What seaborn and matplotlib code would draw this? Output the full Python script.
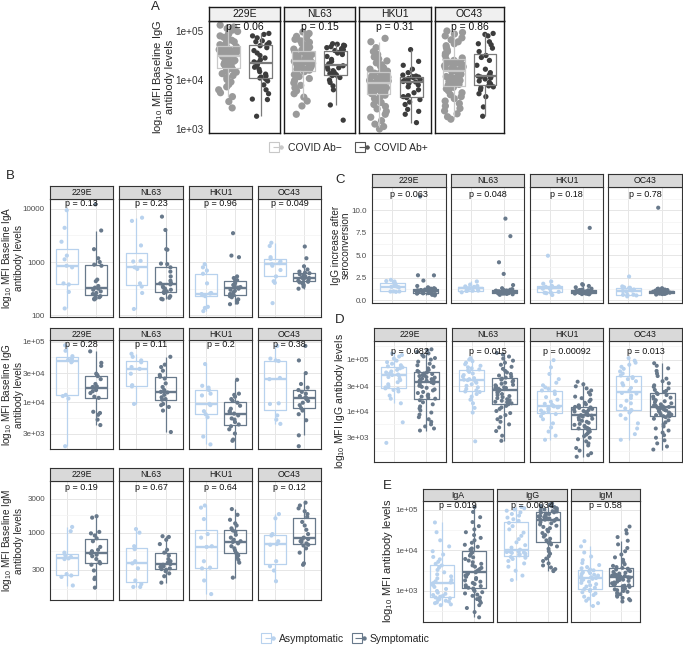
import numpy as np
import pandas as pd
import matplotlib
matplotlib.use("Agg")
import matplotlib.pyplot as plt
import seaborn as sns
from matplotlib.lines import Line2D
from matplotlib.legend_handler import HandlerTuple
from matplotlib.ticker import NullLocator

sns.set_theme(style="white")
plt.rcParams["font.family"] = ["Liberation Sans", "DejaVu Sans"]
plt.rcParams["mathtext.fontset"] = "custom"
plt.rcParams["mathtext.rm"] = "Liberation Sans"
np.random.seed(7)

viruses = ["229E", "NL63", "HKU1", "OC43"]
isotypes = ["IgA", "IgG", "IgM"]
groups_A = ["COVID Ab\u2212", "COVID Ab+"]
groups_S = ["Asymptomatic", "Symptomatic"]

# ---------------- Panel A (log10 MFI values) ----------------
A_229E_neg = [5.12, 5.08, 5.05, 5.02, 4.99, 4.96, 4.93, 4.90, 4.87, 4.84, 4.81, 4.78, 4.75, 4.72, 4.70,
              4.68, 4.67, 4.65, 4.64, 4.62, 4.61, 4.59, 4.58, 4.57, 4.55, 4.54, 4.53, 4.52, 4.51, 4.50,
              4.48, 4.46, 4.45, 4.43, 4.41, 4.40, 4.38, 4.36, 4.34, 4.32, 4.30, 4.29, 4.27, 4.26, 4.25,
              4.22, 4.19, 4.16, 4.13, 4.09, 4.05, 4.01, 3.96, 3.91, 3.86, 3.80, 3.74, 3.66, 3.56, 3.43]
A_229E_pos = [4.95, 4.93, 4.90, 4.86, 4.80, 4.78, 4.76, 4.74, 4.72, 4.70, 4.66, 4.60, 4.55, 4.50, 4.45,
              4.41, 4.37, 4.35, 4.33, 4.30, 4.26, 4.22, 4.17, 4.12, 4.08, 4.06, 4.04, 4.02, 3.98, 3.90,
              3.80, 3.72, 3.61, 3.60, 3.26]
A_NL63_neg = [4.98, 4.95, 4.92, 4.89, 4.86, 4.83, 4.80, 4.77, 4.74, 4.72, 4.69, 4.67, 4.65, 4.63, 4.61,
              4.59, 4.58, 4.56, 4.55, 4.53, 4.52, 4.50, 4.49, 4.47, 4.46, 4.44, 4.43, 4.42, 4.41, 4.40,
              4.38, 4.37, 4.35, 4.34, 4.32, 4.31, 4.29, 4.28, 4.26, 4.25, 4.24, 4.23, 4.22, 4.21, 4.20,
              4.17, 4.14, 4.11, 4.07, 4.03, 3.99, 3.94, 3.89, 3.84, 3.78, 3.72, 3.65, 3.57, 3.47, 3.30]
A_NL63_pos = [4.74, 4.73, 4.71, 4.70, 4.68, 4.66, 4.64, 4.62, 4.60, 4.58, 4.57, 4.55, 4.52, 4.48, 4.42,
              4.38, 4.33, 4.29, 4.27, 4.25, 4.22, 4.19, 4.16, 4.13, 4.11, 4.10, 4.09, 4.05, 4.00, 3.95,
              3.88, 3.80, 3.49, 3.18]
A_HKU1_neg = [4.85, 4.78, 4.66, 4.58, 4.52, 4.47, 4.43, 4.39, 4.35, 4.31, 4.28, 4.25, 4.22, 4.20, 4.18,
              4.16, 4.14, 4.13, 4.11, 4.09, 4.08, 4.06, 4.04, 4.03, 4.01, 3.99, 3.98, 3.97, 3.96, 3.95,
              3.94, 3.92, 3.90, 3.88, 3.86, 3.84, 3.82, 3.81, 3.79, 3.77, 3.76, 3.75, 3.74, 3.73, 3.72,
              3.69, 3.66, 3.62, 3.58, 3.54, 3.50, 3.46, 3.41, 3.36, 3.30, 3.24, 3.17, 3.10, 3.05, 3.00]
A_HKU1_pos = [4.62, 4.38, 4.30, 4.22, 4.15, 4.10, 4.08, 4.07, 4.06, 4.05, 4.03, 4.01, 3.99, 3.97, 3.96,
              3.95, 3.93, 3.90, 3.86, 3.80, 3.74, 3.68, 3.66, 3.64, 3.60, 3.55, 3.50, 3.40, 3.36, 3.30, 3.13]
A_OC43_neg = [5.00, 4.97, 4.94, 4.90, 4.86, 4.82, 4.78, 4.74, 4.70, 4.66, 4.62, 4.58, 4.54, 4.50, 4.45,
              4.42, 4.40, 4.38, 4.36, 4.34, 4.32, 4.30, 4.29, 4.27, 4.25, 4.23, 4.22, 4.21, 4.20, 4.19,
              4.17, 4.15, 4.13, 4.11, 4.09, 4.07, 4.05, 4.03, 4.01, 3.99, 3.97, 3.95, 3.93, 3.91, 3.89,
              3.85, 3.82, 3.78, 3.74, 3.70, 3.66, 3.62, 3.57, 3.52, 3.47, 3.42, 3.37, 3.31, 3.25, 3.20]
A_OC43_pos = [4.95, 4.93, 4.90, 4.78, 4.74, 4.72, 4.65, 4.58, 4.50, 4.46, 4.40, 4.30, 4.22, 4.15, 4.10,
              4.08, 4.07, 4.06, 4.04, 4.02, 3.98, 3.95, 3.92, 3.88, 3.86, 3.84, 3.80, 3.72, 3.66, 3.45, 3.26]
A_pvals = ["0.06", "0.15", "0.31", "0.86"]

# ---------------- Panel B (log10 MFI baseline) ----------------
B_IgA_229E_asym = [3.97, 3.64, 3.38, 3.12, 3.05, 2.93, 2.90, 2.60, 2.58, 2.44, 2.13]
B_IgA_229E_sym = [4.08, 3.59, 3.24, 3.07, 3.00, 2.95, 2.93, 2.67, 2.64, 2.55, 2.52, 2.50, 2.48, 2.45, 2.42,
                  2.40, 2.38, 2.36, 2.34, 2.32, 2.31, 2.30]
B_IgA_NL63_asym = [3.83, 3.77, 3.31, 3.02, 3.01, 2.90, 2.87, 2.60, 2.54, 2.42, 2.12]
B_IgA_NL63_sym = [3.85, 3.60, 3.24, 3.23, 2.97, 2.96, 2.90, 2.82, 2.73, 2.65, 2.61, 2.60, 2.58, 2.54, 2.52,
                  2.50, 2.48, 2.45, 2.44, 2.42, 2.36, 2.33, 2.31, 2.30]
B_IgA_HKU1_asym = [2.96, 2.90, 2.84, 2.78, 2.60, 2.42, 2.41, 2.40, 2.38, 2.36, 2.16, 2.14, 2.08]
B_IgA_HKU1_sym = [3.54, 3.12, 3.09, 2.73, 2.70, 2.66, 2.64, 2.60, 2.57, 2.55, 2.53, 2.52, 2.50, 2.48, 2.46,
                  2.43, 2.40, 2.38, 2.36, 2.34, 2.30, 2.27, 2.24, 2.21]
B_IgA_OC43_asym = [3.36, 3.30, 3.09, 3.06, 3.01, 2.98, 2.96, 2.93, 2.85, 2.73, 2.64, 2.61, 2.23]
B_IgA_OC43_sym = [3.29, 3.07, 2.92, 2.86, 2.82, 2.80, 2.79, 2.77, 2.75, 2.73, 2.71, 2.70, 2.69, 2.68, 2.66,
                  2.65, 2.63, 2.62, 2.60, 2.57, 2.54, 2.50]
B_IgA_pvals = ["0.13", "0.23", "0.96", "0.049"]

B_IgG_229E_asym = [4.94, 4.85, 4.76, 4.72, 4.70, 4.68, 4.66, 4.12, 4.10, 4.06, 3.27]
B_IgG_229E_sym = [4.84, 4.65, 4.60, 4.47, 4.45, 4.43, 4.38, 4.30, 4.26, 4.25, 4.24, 4.20, 4.18, 4.15, 4.09,
                  4.07, 3.84, 3.82, 3.79, 3.71, 3.62]
B_IgG_NL63_asym = [4.80, 4.75, 4.69, 4.66, 4.58, 4.55, 4.47, 4.28, 4.26, 3.97, 3.19]
B_IgG_NL63_sym = [4.75, 4.62, 4.58, 4.52, 4.45, 4.42, 4.39, 4.31, 4.25, 4.20, 4.17, 4.16, 4.12, 4.08, 4.05,
                  4.04, 3.97, 3.95, 3.92, 3.86, 3.505]
B_IgG_HKU1_asym = [4.63, 4.27, 4.24, 4.20, 4.14, 4.11, 3.97, 3.95, 3.85, 3.80, 3.75, 3.43, 3.30]
B_IgG_HKU1_sym = [4.37, 4.14, 4.12, 4.09, 4.05, 4.02, 3.99, 3.94, 3.89, 3.85, 3.83, 3.81, 3.78, 3.73, 3.71,
                  3.67, 3.63, 3.60, 3.55, 3.48, 3.38, 3.36, 3.15]
B_IgG_OC43_asym = [4.93, 4.72, 4.69, 4.68, 4.40, 4.38, 3.98, 3.97, 3.78, 3.71, 3.64]
B_IgG_OC43_sym = [4.93, 4.69, 4.48, 4.30, 4.24, 4.20, 4.17, 4.14, 4.10, 4.08, 4.07, 4.05, 4.02, 3.99, 3.95,
                  3.90, 3.86, 3.80, 3.70, 3.45, 3.27]
B_IgG_pvals = ["0.28", "0.11", "0.2", "0.38"]

B_IgM_229E_asym = [3.08, 3.02, 2.72, 2.68, 2.66, 2.64, 2.63, 2.42, 2.40, 2.38, 2.26]
B_IgM_229E_sym = [3.23, 3.21, 3.01, 2.99, 2.96, 2.92, 2.88, 2.80, 2.76, 2.74, 2.72, 2.71, 2.69, 2.67, 2.63,
                  2.59, 2.57, 2.55, 2.47, 2.37, 2.35, 2.23]
B_IgM_NL63_asym = [3.05, 3.00, 2.81, 2.77, 2.60, 2.57, 2.50, 2.33, 2.28, 2.24, 2.24]
B_IgM_NL63_sym = [2.95, 2.94, 2.90, 2.84, 2.76, 2.72, 2.68, 2.63, 2.60, 2.58, 2.56, 2.55, 2.53, 2.52, 2.50,
                  2.49, 2.48, 2.46, 2.43, 2.39, 2.30]
B_IgM_HKU1_asym = [3.38, 3.35, 3.19, 2.98, 2.93, 2.81, 2.80, 2.60, 2.51, 2.50, 2.33, 2.14]
B_IgM_HKU1_sym = [3.33, 3.25, 3.18, 3.13, 3.10, 3.06, 3.03, 3.01, 2.97, 2.93, 2.90, 2.88, 2.87, 2.85, 2.81,
                  2.78, 2.75, 2.72, 2.70, 2.68, 2.65, 2.62, 2.58, 2.37]
B_IgM_OC43_asym = [3.26, 3.20, 2.98, 2.96, 2.88, 2.84, 2.83, 2.60, 2.53, 2.47, 2.32]
B_IgM_OC43_sym = [3.42, 3.38, 3.34, 3.30, 3.26, 3.22, 3.15, 3.10, 3.04, 2.98, 2.93, 2.91, 2.90, 2.88, 2.87,
                  2.85, 2.83, 2.82, 2.78, 2.72, 2.57, 2.55]
B_IgM_pvals = ["0.19", "0.67", "0.64", "0.12"]

# ---------------- Panel C (fold increase, linear) ----------------
C_229E_asym = [2.28, 2.15, 2.10, 1.84, 1.70, 1.55, 1.51, 1.45, 1.00, 0.99, 0.98, 0.95]
C_229E_sym = [11.54, 2.79, 2.78, 2.20, 1.60, 1.45, 1.35, 1.30, 1.28, 1.25, 1.20, 1.15, 1.12, 1.10, 1.08,
              1.07, 1.05, 1.02, 1.00, 0.98, 0.95, 0.84, 0.82, 0.81, 0.80, 0.80, 0.75, 0.70, 0.62, 0.55]
C_NL63_asym = [2.10, 1.75, 1.60, 1.55, 1.50, 1.40, 1.35, 1.32, 1.30, 1.09, 1.08, 1.07, 1.05, 0.90]
C_NL63_sym = [9.08, 7.13, 4.23, 2.94, 1.70, 1.35, 1.25, 1.18, 1.12, 1.10, 1.08, 1.05, 1.02, 1.00, 0.99,
              0.98, 0.97, 0.95, 0.92, 0.90, 0.88, 0.85, 0.82, 0.81, 0.80, 0.78, 0.75, 0.72, 0.68, 0.62]
C_HKU1_asym = [4.96, 2.10, 1.85, 1.60, 1.55, 1.50, 1.38, 1.30, 1.25, 0.95, 0.88, 0.85, 0.80, 0.60]
C_HKU1_sym = [8.05, 1.80, 1.72, 1.60, 1.45, 1.30, 1.20, 1.15, 1.12, 1.10, 1.05, 1.02, 1.00, 0.99, 0.98,
              0.96, 0.94, 0.92, 0.90, 0.88, 0.85, 0.82, 0.80, 0.78, 0.76, 0.75, 0.74, 0.72, 0.70, 0.68]
C_OC43_asym = [2.65, 1.55, 1.45, 1.40, 1.38, 1.20, 1.10, 1.05, 1.00, 0.63, 0.62, 0.62, 0.55, 0.45]
C_OC43_sym = [10.29, 1.35, 1.30, 1.25, 1.20, 1.15, 1.10, 1.08, 1.06, 1.04, 1.02, 1.00, 0.98, 0.97, 0.96,
              0.95, 0.94, 0.92, 0.90, 0.88, 0.86, 0.84, 0.82, 0.81, 0.80, 0.78, 0.75, 0.72, 0.70, 0.65]
C_pvals = ["0.063", "0.048", "0.18", "0.78"]

# ---------------- Panel D (log10 MFI IgG) ----------------
D_229E_asym = [5.12, 5.09, 5.06, 5.02, 4.98, 4.95, 4.92, 4.89, 4.87, 4.85, 4.83, 4.80, 4.77, 4.75, 4.73,
               4.71, 4.70, 4.69, 4.66, 4.63, 4.60, 4.56, 4.52, 4.48, 4.46, 4.44, 4.43, 4.41, 4.38, 4.30,
               4.24, 4.15, 3.78, 3.38]
D_229E_sym = [5.20, 5.18, 5.15, 5.12, 5.09, 5.06, 5.03, 5.00, 4.96, 4.92, 4.89, 4.86, 4.83, 4.80, 4.78,
              4.76, 4.75, 4.73, 4.72, 4.70, 4.69, 4.68, 4.66, 4.65, 4.63, 4.62, 4.61, 4.60, 4.59, 4.58,
              4.56, 4.54, 4.52, 4.49, 4.47, 4.45, 4.42, 4.40, 4.37, 4.35, 4.32, 4.30, 4.28, 4.26, 4.24,
              4.21, 4.17, 4.13, 4.09, 4.05, 4.01, 3.97, 3.93, 3.88, 3.84, 3.79, 3.74, 3.70, 3.66, 3.62]
D_NL63_asym = [5.03, 5.00, 4.97, 4.94, 4.91, 4.88, 4.85, 4.83, 4.81, 4.79, 4.76, 4.73, 4.70, 4.67, 4.64,
               4.62, 4.61, 4.60, 4.58, 4.55, 4.52, 4.49, 4.46, 4.43, 4.40, 4.38, 4.37, 4.33, 4.28, 4.22,
               4.15, 4.06, 3.97, 3.41]
D_NL63_sym = [5.13, 5.10, 5.06, 5.02, 4.98, 4.94, 4.90, 4.86, 4.82, 4.78, 4.75, 4.72, 4.69, 4.67, 4.65,
              4.63, 4.61, 4.59, 4.57, 4.55, 4.53, 4.51, 4.50, 4.48, 4.46, 4.45, 4.44, 4.43, 4.42, 4.41,
              4.39, 4.37, 4.35, 4.33, 4.31, 4.29, 4.27, 4.25, 4.23, 4.21, 4.20, 4.18, 4.17, 4.16, 4.15,
              4.13, 4.10, 4.07, 4.04, 4.00, 3.96, 3.92, 3.88, 3.84, 3.79, 3.74, 3.68, 3.61, 3.52, 3.42]
D_HKU1_asym = [4.99, 4.85, 4.72, 4.62, 4.55, 4.50, 4.46, 4.43, 4.40, 4.38, 4.33, 4.27, 4.22, 4.18, 4.14,
               4.12, 4.10, 4.09, 4.08, 4.07, 4.05, 4.03, 4.01, 3.99, 3.97, 3.96, 3.94, 3.90, 3.84, 3.76,
               3.68, 3.60, 3.52, 3.44]
D_HKU1_sym = [4.57, 4.52, 4.48, 4.44, 4.40, 4.36, 4.32, 4.28, 4.25, 4.22, 4.19, 4.16, 4.13, 4.11, 4.10,
              4.08, 4.07, 4.06, 4.04, 4.03, 4.02, 4.00, 3.99, 3.98, 3.96, 3.95, 3.94, 3.93, 3.92, 3.92,
              3.91, 3.89, 3.87, 3.85, 3.83, 3.81, 3.79, 3.77, 3.75, 3.73, 3.71, 3.69, 3.67, 3.66, 3.65,
              3.63, 3.60, 3.57, 3.54, 3.51, 3.48, 3.45, 3.41, 3.37, 3.33, 3.28, 3.23, 3.18, 3.14, 3.11]
D_OC43_asym = [5.03, 4.98, 4.94, 4.90, 4.86, 4.82, 4.77, 4.73, 4.69, 4.66, 4.64, 4.62, 4.58, 4.54, 4.50,
               4.45, 4.40, 4.35, 4.34, 4.30, 4.25, 4.20, 4.15, 4.10, 4.05, 4.02, 4.00, 3.97, 3.92, 3.85,
               3.76, 3.66, 3.55, 3.44]
D_OC43_sym = [4.93, 4.88, 4.83, 4.78, 4.73, 4.68, 4.63, 4.58, 4.54, 4.50, 4.47, 4.44, 4.41, 4.39, 4.37,
              4.35, 4.33, 4.31, 4.28, 4.26, 4.24, 4.21, 4.19, 4.17, 4.15, 4.13, 4.11, 4.10, 4.09, 4.08,
              4.06, 4.05, 4.04, 4.02, 4.01, 4.00, 3.98, 3.97, 3.95, 3.94, 3.93, 3.92, 3.91, 3.90, 3.90,
              3.88, 3.85, 3.82, 3.78, 3.74, 3.70, 3.66, 3.62, 3.58, 3.53, 3.48, 3.43, 3.37, 3.31, 3.25]
D_pvals = ["0.082", "0.015", "0.00092", "0.013"]

# ---------------- Panel E (log10 MFI by isotype) ----------------
E_IgA_asym = [4.69, 4.45, 4.25, 4.10, 3.98, 3.90, 3.84, 3.78, 3.72, 3.67,
              3.63, 3.58, 3.52, 3.46, 3.41, 3.36, 3.31, 3.27, 3.24, 3.21,
              3.20, 3.15, 3.10, 3.05, 3.00, 2.96, 2.93, 2.90, 2.88, 2.86,
              2.84, 2.82, 2.80, 2.78, 2.76, 2.74, 2.72, 2.70, 2.67, 2.65]
E_IgA_sym = [5.07, 4.95, 4.82, 4.70, 4.60, 4.52, 4.45, 4.38, 4.31, 4.25, 4.19, 4.14, 4.09, 4.05, 4.02,
             3.99, 3.95, 3.91, 3.87, 3.83, 3.79, 3.75, 3.71, 3.67, 3.63, 3.60, 3.57, 3.54, 3.51, 3.48,
             3.46, 3.43, 3.40, 3.38, 3.35, 3.32, 3.29, 3.26, 3.23, 3.20, 3.17, 3.14, 3.12, 3.10, 3.08,
             3.06, 3.03, 3.00, 2.97, 2.94, 2.91, 2.88, 2.84, 2.80, 2.76, 2.71, 2.65, 2.58, 2.48, 2.35]
E_IgG_asym = [5.07, 5.04, 5.01, 4.98, 4.94, 4.90, 4.86, 4.81, 4.77, 4.73,
              4.68, 4.60, 4.52, 4.44, 4.36, 4.28, 4.20, 4.13, 4.07, 4.02,
              3.99, 3.98, 3.97, 3.96, 3.95, 3.94, 3.92, 3.91, 3.90, 3.88,
              3.86, 3.84, 3.82, 3.79, 3.74, 3.68, 3.60, 3.50, 3.38, 3.27]
E_IgG_sym = [5.16, 5.14, 5.12, 5.10, 5.09, 5.07, 5.06, 5.04, 5.03, 5.01, 5.00, 4.99, 4.98, 4.97, 4.96,
             4.94, 4.93, 4.91, 4.90, 4.88, 4.87, 4.85, 4.84, 4.82, 4.80, 4.79, 4.78, 4.77, 4.76, 4.75,
             4.73, 4.70, 4.67, 4.64, 4.61, 4.58, 4.55, 4.51, 4.47, 4.43, 4.38, 4.34, 4.29, 4.25, 4.21,
             4.19, 4.15, 4.10, 4.04, 3.98, 3.92, 3.86, 3.80, 3.74, 3.68, 3.63, 3.58, 3.54, 3.51, 3.49]
E_IgM_asym = [4.23, 4.10, 3.95, 3.85, 3.76, 3.69, 3.64, 3.59, 3.56, 3.53,
              3.51, 3.49, 3.46, 3.44, 3.42, 3.40, 3.38, 3.36, 3.34, 3.32,
              3.30, 3.28, 3.26, 3.23, 3.20, 3.17, 3.14, 3.11, 3.08, 3.05,
              3.03, 3.00, 2.97, 2.94, 2.90, 2.86, 2.81, 2.76, 2.70, 2.63]
E_IgM_sym = [4.59, 4.50, 4.42, 4.33, 4.24, 4.15, 4.06, 3.98, 3.90, 3.83, 3.77, 3.71, 3.66, 3.62, 3.59,
             3.57, 3.55, 3.53, 3.51, 3.49, 3.47, 3.45, 3.43, 3.42, 3.40, 3.39, 3.38, 3.37, 3.36, 3.35,
             3.34, 3.33, 3.31, 3.30, 3.28, 3.27, 3.25, 3.23, 3.21, 3.19, 3.17, 3.15, 3.14, 3.13, 3.12,
             3.10, 3.08, 3.06, 3.04, 3.02, 3.00, 2.98, 2.95, 2.92, 2.89, 2.86, 2.83, 2.80, 2.77, 2.74]
E_pvals = ["0.019", "0.0034", "0.58"]

# ---------------- styling ----------------
W, H = 683, 645
fig = plt.figure(figsize=(W / 100, H / 100), dpi=100)

pal_A = {groups_A[0]: "#9a9a9a", groups_A[1]: "#3c3c3c"}
box_A = {groups_A[0]: "#c8c8c8", groups_A[1]: "#7a7a7a"}
pal_S = {groups_S[0]: "#b8d2ee", groups_S[1]: "#68798b"}
box_S = {groups_S[0]: "#b8d2ee", groups_S[1]: "#68798b"}


def rect(l, r, t, b):
    return [l / W, 1 - b / H, (r - l) / W, (b - t) / H]


def facet(cols_lr, tb, strip_top, title, a_vals, b_vals, groups, pal, bpal, log, ylim,
          yticks, yticklabels, minors, pval, p_off, classic=False, jit=0.2, psize=3.0,
          show_y=True, tick_fs=5.8, strip_fs=6.3, p_fs=6.5, bwidth=0.75):
    l, r = cols_lr
    t, b = tb
    ax = fig.add_axes(rect(l, r, t, b))
    if log:
        av = [10 ** v for v in a_vals]
        bv = [10 ** v for v in b_vals]
    else:
        av, bv = list(a_vals), list(b_vals)
    df = pd.DataFrame({"grp": [groups[0]] * len(av) + [groups[1]] * len(bv), "val": av + bv})
    ls = True if log else None
    if classic:
        # dense cloud for the large group, larger dots for the small group
        for gi, g in enumerate(groups):
            sub = df[df["grp"] == g]
            sns.stripplot(data=sub, x="grp", y="val", hue="grp", order=groups, hue_order=groups,
                          palette=pal, jitter=jit[gi], size=psize[gi], linewidth=0, legend=False,
                          ax=ax, log_scale=ls, zorder=1)
        sns.boxplot(data=df, x="grp", y="val", hue="grp", order=groups, hue_order=groups,
                    palette=bpal, fill=False, width=bwidth, linewidth=0.9, showfliers=False,
                    showcaps=False, medianprops={"linewidth": 1.6}, legend=False, ax=ax,
                    log_scale=ls)
    else:
        sns.boxplot(data=df, x="grp", y="val", hue="grp", order=groups, hue_order=groups,
                    palette=bpal, fill=False, width=bwidth, linewidth=0.9, showfliers=False,
                    showcaps=False, medianprops={"linewidth": 1.7}, legend=False, ax=ax,
                    log_scale=ls)
        sns.stripplot(data=df, x="grp", y="val", hue="grp", order=groups, hue_order=groups,
                      palette=pal, jitter=jit, size=psize, linewidth=0, legend=False, ax=ax,
                      log_scale=ls, zorder=3)
    ax.set_xlim(-0.6, 1.6)
    if log:
        ax.set_ylim(10 ** ylim[0], 10 ** ylim[1])
        ax.set_yticks([10 ** v for v in yticks])
        if minors:
            ax.set_yticks([10 ** v for v in minors], minor=True)
        else:
            ax.yaxis.set_minor_locator(NullLocator())
    else:
        ax.set_ylim(*ylim)
        ax.set_yticks(yticks)
        if minors:
            ax.set_yticks(minors, minor=True)
    ax.set_yticklabels(yticklabels if show_y else [""] * len(yticks))
    ax.set_xticks([0, 1])
    ax.set_xticklabels(["", ""])
    ax.set_xlabel("")
    ax.set_ylabel("")
    edge = "#1a1a1a" if classic else "#333333"
    for sp in ax.spines.values():
        sp.set_color(edge)
        sp.set_linewidth(1.0 if classic else 0.8)
        sp.set_visible(True)
    ax.tick_params(axis="x", which="major", length=2.5, width=0.6, color="#333333", pad=1)
    ax.tick_params(axis="y", which="major", length=2.5 if show_y else 0, width=0.6,
                   color="#333333", labelsize=tick_fs,
                   labelcolor="#333333" if classic else "#4d4d4d", pad=1.2)
    ax.tick_params(which="minor", length=0)
    if not classic:
        ax.set_axisbelow(True)
        ax.grid(True, which="major", color="#e6e6e6", linewidth=0.7)
        ax.grid(True, which="minor", axis="y", color="#f3f3f3", linewidth=0.5)
    else:
        ax.grid(False)
    ax.set_facecolor("white")
    h = b - t
    ax.text(0.5, 1 - p_off / h, f"p = {pval}", transform=ax.transAxes, ha="center",
            va="center", fontsize=p_fs, color="#111111", zorder=5)
    # strip
    sax = fig.add_axes(rect(l, r, strip_top, t))
    sax.set_facecolor("#f0f0f0" if classic else "#d9d9d9")
    sax.set_xticks([])
    sax.set_yticks([])
    for sp in sax.spines.values():
        sp.set_color(edge)
        sp.set_linewidth(1.0 if classic else 0.8)
        sp.set_visible(True)
    sax.text(0.5, 0.5, title, ha="center", va="center", fontsize=strip_fs, color="#1a1a1a",
             transform=sax.transAxes)
    return ax


# ---------------- Panel A ----------------
A_cols = [(209, 280), (284, 355), (359, 431), (435, 504)]
A_data = [(A_229E_neg, A_229E_pos), (A_NL63_neg, A_NL63_pos),
          (A_HKU1_neg, A_HKU1_pos), (A_OC43_neg, A_OC43_pos)]
for i, v in enumerate(viruses):
    facet(A_cols[i], (21, 133), 7, v, A_data[i][0], A_data[i][1], groups_A, pal_A, box_A,
          True, (2.918, 5.204), [3, 4, 5], ["1e+03", "1e+04", "1e+05"], [], A_pvals[i], 6,
          classic=True, jit=(0.3, 0.28), psize=(5.2, 3.8), show_y=(i == 0), tick_fs=7.2,
          strip_fs=7.5, p_fs=7.5, bwidth=0.7)

# ---------------- Panel B ----------------
B_cols = [(50, 113), (119, 183), (189, 252), (258, 321)]
B_rows = [
    ("IgA", (199, 317), 186, [[B_IgA_229E_asym, B_IgA_229E_sym], [B_IgA_NL63_asym, B_IgA_NL63_sym],
                               [B_IgA_HKU1_asym, B_IgA_HKU1_sym], [B_IgA_OC43_asym, B_IgA_OC43_sym]],
     (1.97, 4.18), [2, 3, 4], ["100", "1000", "10000"], [2.5, 3.5], B_IgA_pvals, 5),
    ("IgG", (340, 449), 328, [[B_IgG_229E_asym, B_IgG_229E_sym], [B_IgG_NL63_asym, B_IgG_NL63_sym],
                               [B_IgG_HKU1_asym, B_IgG_HKU1_sym], [B_IgG_OC43_asym, B_IgG_OC43_sym]],
     (3.224, 5.028), [np.log10(3e3), 4, np.log10(3e4), 5], ["3e+03", "1e+04", "3e+04", "1e+05"],
     [3.74, 4.24, 4.74], B_IgG_pvals, 5),
    ("IgM", (481, 600), 468, [[B_IgM_229E_asym, B_IgM_229E_sym], [B_IgM_NL63_asym, B_IgM_NL63_sym],
                               [B_IgM_HKU1_asym, B_IgM_HKU1_sym], [B_IgM_OC43_asym, B_IgM_OC43_sym]],
     (2.057, 3.723), [np.log10(300), 3, np.log10(3000)], ["300", "1000", "3000"],
     [2.215, 2.74, 3.24], B_IgM_pvals, 6.5),
]
for iso, tb, st, data, yl, yt, ytl, mn, pv, poff in B_rows:
    for i, v in enumerate(viruses):
        facet(B_cols[i], tb, st, v, data[i][0], data[i][1], groups_S, pal_S, box_S, True, yl,
              yt, ytl, mn, pv[i], poff, jit=0.2, psize=3.0, show_y=(i == 0))
    yc = (tb[0] + tb[1]) / 2
    fig.text(12.5 / W, 1 - yc / H, r"log$_{10}$ MFI Baseline " + iso + "\nantibody levels",
             rotation=90, ha="center", va="center", fontsize=7.2, linespacing=1.0)

# ---------------- Panel C ----------------
C_cols = [(372, 446), (451, 524), (530, 603), (608, 682)]
C_data = [(C_229E_asym, C_229E_sym), (C_NL63_asym, C_NL63_sym),
          (C_HKU1_asym, C_HKU1_sym), (C_OC43_asym, C_OC43_sym)]
for i, v in enumerate(viruses):
    facet(C_cols[i], (187, 303), 174, v, C_data[i][0], C_data[i][1], groups_S, pal_S, box_S,
          False, (-0.29, 12.59), [0, 2.5, 5, 7.5, 10], ["0.0", "2.5", "5.0", "7.5", "10.0"],
          [1.25, 3.75, 6.25, 8.75, 11.25], C_pvals[i], 7.5, jit=0.28, psize=3.0,
          show_y=(i == 0))
fig.text(341 / W, 1 - 245 / H, "IgG increase after\nseroconversion", rotation=90,
         ha="center", va="center", fontsize=7.2, linespacing=1.0)

# ---------------- Panel D ----------------
D_cols = [(374, 446), (452, 524), (530, 603), (609, 682)]
D_data = [(D_229E_asym, D_229E_sym), (D_NL63_asym, D_NL63_sym),
          (D_HKU1_asym, D_HKU1_sym), (D_OC43_asym, D_OC43_sym)]
for i, v in enumerate(viruses):
    facet(D_cols[i], (341, 462), 328, v, D_data[i][0], D_data[i][1], groups_S, pal_S, box_S,
          True, (3.008, 5.362), [np.log10(3e3), 4, np.log10(3e4), 5],
          ["3e+03", "1e+04", "3e+04", "1e+05"], [3.215, 3.74, 4.24, 4.74, 5.26], D_pvals[i], 11,
          jit=0.28, psize=2.9, show_y=(i == 0))
fig.text(340 / W, 1 - 401 / H, r"log$_{10}$ MFI IgG antibody levels", rotation=90,
         ha="center", va="center", fontsize=7.5)

# ---------------- Panel E ----------------
E_cols = [(423, 493), (497, 567), (571, 640)]
E_data = [(E_IgA_asym, E_IgA_sym), (E_IgG_asym, E_IgG_sym), (E_IgM_asym, E_IgM_sym)]
for i, iso in enumerate(isotypes):
    facet(E_cols[i], (501, 622), 489, iso, E_data[i][0], E_data[i][1], groups_S, pal_S, box_S,
          True, (2.235, 5.22), [3, 4, 5], ["1e+03", "1e+04", "1e+05"], [2.5, 3.5, 4.5],
          E_pvals[i], 5, jit=0.3, psize=2.9, show_y=(i == 0))
fig.text(388 / W, 1 - 561 / H, r"log$_{10}$ MFI antibody levels", rotation=90,
         ha="center", va="center", fontsize=8)

# A y label
fig.text(163 / W, 1 - 77 / H, r"log$_{10}$ MFI Baseline IgG" + "\nantibody levels",
         rotation=90, ha="center", va="center", fontsize=8, linespacing=1.0)

# panel letters
for letter, x, y in [("A", 155, 7), ("B", 10, 176), ("C", 340, 180), ("D", 340, 320),
                     ("E", 387, 486)]:
    fig.text(x / W, 1 - y / H, letter, ha="center", va="center", fontsize=9.5)


# ---------------- legends ----------------
def key(color):
    return (Line2D([], [], marker="s", markersize=7, mfc="white", mec=color, mew=0.8, ls=""),
            Line2D([], [], marker="_", markersize=7, color=color, mew=0.8, ls=""),
            Line2D([], [], marker="o", markersize=2.2, color=color, ls=""))


fig.legend([key(box_A[groups_A[0]]), key("#555555")], groups_A, loc="center",
           bbox_to_anchor=(350 / W, 1 - 148 / H), ncol=2, frameon=False, fontsize=7.5,
           handler_map={tuple: HandlerTuple(ndivide=None, pad=0)}, handlelength=1.0,
           handletextpad=0.5, columnspacing=1.6)
fig.legend([key(box_S[groups_S[0]]), key(box_S[groups_S[1]])], groups_S, loc="center",
           bbox_to_anchor=(347 / W, 1 - 639 / H), ncol=2, frameon=False, fontsize=7.5,
           handler_map={tuple: HandlerTuple(ndivide=None, pad=0)}, handlelength=1.0,
           handletextpad=0.4, columnspacing=1.0)

fig.savefig("out.png", dpi=100)
